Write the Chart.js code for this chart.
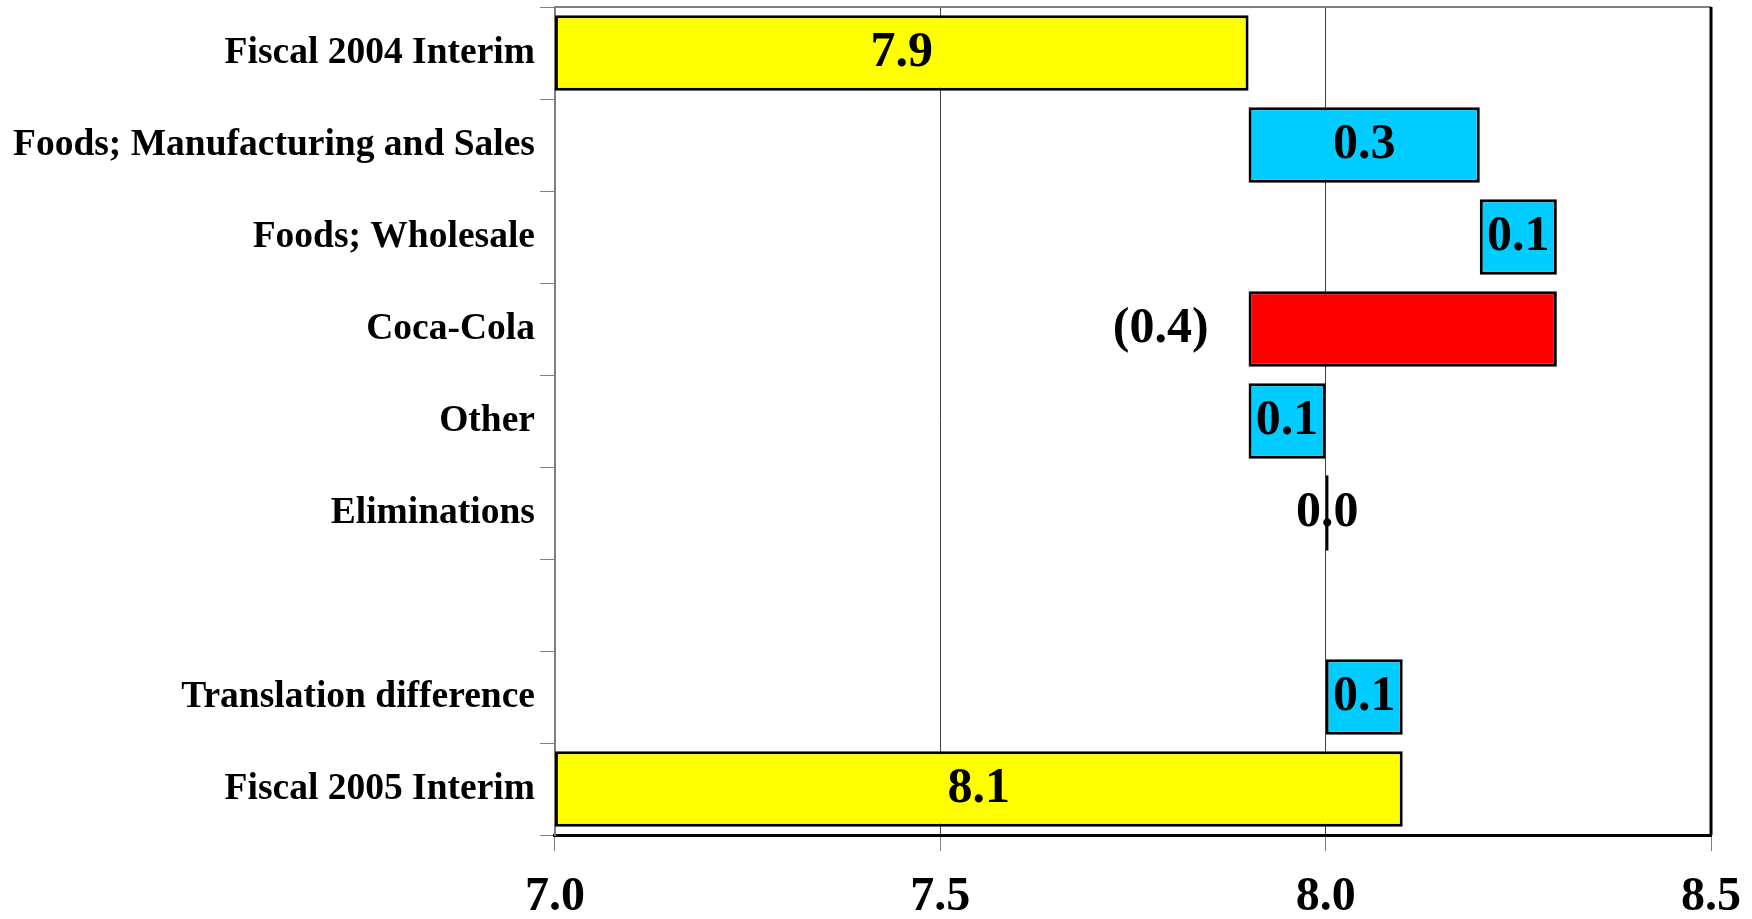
<!DOCTYPE html>
<html>
<head>
<meta charset="utf-8">
<title>Fiscal 2005 Interim bridge</title>
<script src="https://cdn.jsdelivr.net/npm/chart.js@4/dist/chart.umd.min.js"></script>
<style>
  html, body { margin: 0; padding: 0; background: #fff; overflow: hidden; }
  #wrap { width: 1752px; height: 919px; position: relative; }
</style>
</head>
<body>
<div id="wrap"><canvas id="bridgeChart"></canvas></div>
<script>
// Data
const categories = [
    'Fiscal 2004 Interim',
    'Foods; Manufacturing and Sales',
    'Foods; Wholesale',
    'Coca-Cola',
    'Other',
    'Eliminations',
    '',
    'Translation difference',
    'Fiscal 2005 Interim'
];
const changes = [7.9, 0.3, 0.1, -0.4, 0.1, 0.0, null, 0.1, 8.1];
const isTotal = [true, false, false, false, false, false, false, false, true];
const xTicks = [7.0, 7.5, 8.0, 8.5];

const COLOR_TOTAL = '#FFFF00';
const COLOR_UP = '#00CCFF';
const COLOR_DOWN = '#FF0000';

// Default Chart.js Configuration
Chart.defaults.font.family = "'Liberation Serif', 'Times New Roman', serif";
Chart.defaults.font.weight = 'bold';
Chart.defaults.color = '#000';
Chart.defaults.animation = false;

// Waterfall: totals run from the axis start, changes float from the running total
let running = 0;
const ranges = changes.map((v, i) => {
    if (v === null) return null;
    if (isTotal[i]) {
        running = v;
        return [xTicks[0], v];
    }
    const start = running;
    running = +(running + v).toFixed(2);
    return [start, running];
});

const barColors = changes.map((v, i) => {
    if (v === null) return 'transparent';
    if (isTotal[i]) return COLOR_TOTAL;
    return v < 0 ? COLOR_DOWN : COLOR_UP;
});

function formatChange(v) {
    return v < 0 ? '(' + Math.abs(v).toFixed(1) + ')' : v.toFixed(1);
}

// Value labels: inside the bar, or left of it for decreases
const valueLabels = {
    id: 'valueLabels',
    afterDatasetsDraw(chart) {
        const ctx = chart.ctx;
        const meta = chart.getDatasetMeta(0);
        ctx.save();
        ctx.font = "bold 50px 'Liberation Serif', 'Times New Roman', serif";
        ctx.fillStyle = '#000';
        ctx.textBaseline = 'middle';
        meta.data.forEach((bar, i) => {
            const v = changes[i];
            if (v === null) return;
            const left = Math.min(bar.x, bar.base);
            const right = Math.max(bar.x, bar.base);
            if (v < 0) {
                ctx.textAlign = 'right';
                ctx.fillText(formatChange(v), left - 40, bar.y);
            } else {
                ctx.textAlign = 'center';
                ctx.fillText(formatChange(v), (left + right) / 2, bar.y);
            }
        });
        ctx.restore();
    }
};

// Top and right edges of the plot frame
const plotFrame = {
    id: 'plotFrame',
    beforeDatasetsDraw(chart) {
        const { ctx, chartArea: a } = chart;
        ctx.save();
        ctx.strokeStyle = '#808080';
        ctx.lineWidth = 2;
        ctx.beginPath();
        ctx.moveTo(a.left, a.top);
        ctx.lineTo(a.right, a.top);
        ctx.stroke();
        ctx.strokeStyle = '#000';
        ctx.lineWidth = 3;
        ctx.beginPath();
        ctx.moveTo(a.right, a.top);
        ctx.lineTo(a.right, a.bottom);
        ctx.stroke();
        ctx.restore();
    }
};

new Chart(document.getElementById('bridgeChart').getContext('2d'), {
    type: 'bar',
    data: {
        labels: categories,
        datasets: [{
            data: ranges,
            backgroundColor: barColors,
            borderColor: '#000',
            borderWidth: 3,
            borderSkipped: false,
            minBarLength: 3,
            categoryPercentage: 1,
            barPercentage: 0.82
        }]
    },
    options: {
        indexAxis: 'y',
        responsive: true,
        maintainAspectRatio: false,
        layout: { padding: { left: 8, right: 41, top: 7, bottom: 0 } },
        plugins: {
            legend: { display: false },
            tooltip: { enabled: false }
        },
        scales: {
            x: {
                type: 'linear',
                min: xTicks[0],
                max: xTicks[xTicks.length - 1],
                afterBuildTicks: scale => {
                    scale.ticks = xTicks.map(v => ({ value: v }));
                },
                // side margins come from layout padding; count tick padding once
                afterFit: scale => {
                    scale.paddingLeft = 0;
                    scale.paddingRight = 0;
                    scale.height -= scale.options.ticks.padding;
                },
                ticks: {
                    callback: v => Number(v).toFixed(1),
                    font: { size: 48, weight: 'bold', lineHeight: 0.875 },
                    color: '#000',
                    padding: 26,
                    maxRotation: 0
                },
                grid: {
                    color: '#404040',
                    lineWidth: 1,
                    tickLength: 16,
                    tickColor: '#808080'
                },
                border: { color: '#000', width: 3 }
            },
            y: {
                afterFit: scale => {
                    scale.paddingTop = 0;
                    scale.paddingBottom = 0;
                },
                grid: {
                    offset: true,
                    drawOnChartArea: false,
                    tickLength: 15,
                    color: '#808080'
                },
                border: { color: '#808080', width: 2 },
                ticks: {
                    font: { size: 37.5, weight: 'bold' },
                    color: '#000',
                    padding: 5,
                    autoSkip: false
                }
            }
        }
    },
    plugins: [plotFrame, valueLabels]
});
</script>
</body>
</html>
